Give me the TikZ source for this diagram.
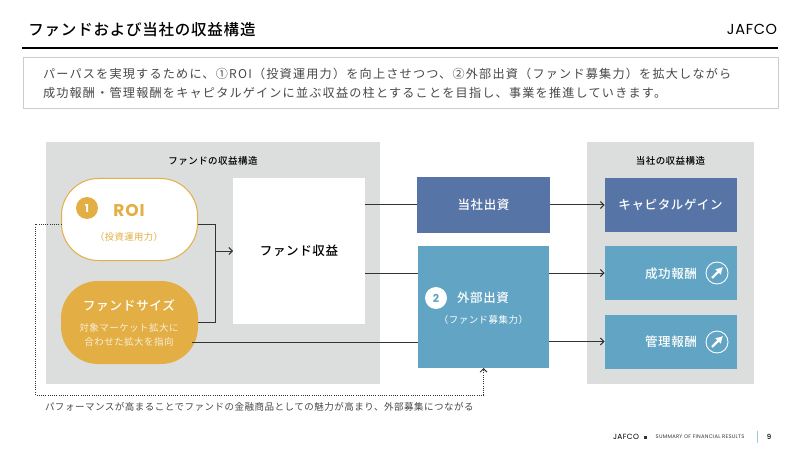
\documentclass[tikz,border=0pt]{standalone}
\usepackage{fontspec}
\usepackage{xcolor}
\usetikzlibrary{arrows.meta}
\setmainfont{Noto Sans CJK JP}
\newfontfamily\jp[LetterSpace=5]{Noto Sans CJK JP}
\newfontfamily\jpmed[LetterSpace=5]{Noto Sans CJK JP Medium}
\newfontfamily\jpwide[LetterSpace=10]{Noto Sans CJK JP}
\newfontfamily\logo[LetterSpace=5]{Poppins}
\newfontfamily\logomed{Poppins Medium}
\newcommand{\fs}[1]{\fontsize{#1}{#1}\selectfont}
\definecolor{panelgray}{HTML}{DCDDDD}
\definecolor{navybox}{HTML}{5674A5}
\definecolor{tealbox}{HTML}{61A4C4}
\definecolor{goldpill}{HTML}{E3AE43}
\definecolor{linedark}{HTML}{333333}
\definecolor{textgray}{HTML}{484848}
\tikzset{
  panel/.style={fill=panelgray,inner sep=0pt,outer sep=0pt,minimum width=#1,minimum height=242pt},
  plainbox/.style={inner sep=0pt,outer sep=0pt,align=center,text=white,minimum width=132pt,minimum height=54pt},
  pill/.style={rounded corners=37pt,inner sep=0pt,outer sep=0pt,minimum width=137pt,minimum height=83pt},
  label/.style={inner sep=0pt,outer sep=0pt,align=center},
  badge/.style={circle,inner sep=0pt,outer sep=0pt,minimum size=22pt,font=\logo\bfseries\fs{11}},
  upring/.style={circle,draw=white,line width=0.9pt,inner sep=0pt,outer sep=0pt,minimum size=22pt},
  upmark/.style={white,line width=2.2pt,-{Latex[length=7pt,width=8.5pt]}},
  link/.style={draw=linedark,line width=1pt},
  arrowlink/.style={link,-{Straight Barb[length=3.5pt,width=7pt]}},
  looplink/.style={draw=linedark,line width=0.9pt,dash pattern=on 1pt off 1.2pt,-{Straight Barb[length=3.5pt,width=7pt]}},
}
\begin{document}
\begin{tikzpicture}[x=1pt,y=-1pt]
  \useasboundingbox (0,0) rectangle (800,449);
  % header
  \node (title) at (142,30) [label,font=\jpmed\fs{15.5},text=black] {ファンドおよび当社の収益構造};
  \node (brand) at (752,29) [label,font=\logo\fs{14.5},text=black] {JAFCO};
  \coordinate (rulel) at (22,48);
  \coordinate (ruler) at (778,48);
  \draw[line width=2.2pt,black] (rulel) -- (ruler);
  \node (lead) at (400.5,83) [draw=black!20,line width=1pt,fill=white,inner sep=0pt,minimum width=755pt,minimum height=51pt] {};
  \node (leada) at (43,73.5) [label,anchor=west,font=\jpwide\fs{12.12},text=textgray] {パーパスを実現するために、①ROI（投資運用力）を向上させつつ、②外部出資（ファンド募集力）を拡大しながら};
  \node (leadb) at (43,92.5) [label,anchor=west,font=\jpwide\fs{12.12},text=textgray] {成功報酬・管理報酬をキャピタルゲインに並ぶ収益の柱とすることを目指し、事業を推進していきます。};

  % panels
  \node (fundpanel) at (213,263) [panel=334pt] {};
  \node (ownpanel) at (670.5,263) [panel=167pt] {};
  \node (fundhead) at (213,161) [label,font=\jpmed\fs{9.5}] {ファンドの収益構造};
  \node (ownhead) at (670.5,161) [label,font=\jpmed\fs{9.5}] {当社の収益構造};

  % boxes
  \node (roi) at (129.5,219.5) [pill,draw=goldpill,line width=1pt,fill=white,minimum width=136pt,minimum height=82pt] {};
  \node (size) at (129.5,322.5) [pill,fill=goldpill] {};
  \node (income) at (299,251) [plainbox,fill=white,text=black,minimum height=146pt,font=\jpmed\fs{12.5}] {ファンド収益};
  \node (own) at (483.5,205) [plainbox,fill=navybox,minimum width=133pt,minimum height=55pt,font=\jpmed\fs{12.5}] {当社出資};
  \node (ext) at (483.5,307) [plainbox,fill=tealbox,minimum width=131pt,minimum height=122pt] {};
  \node (gain) at (670.5,205) [plainbox,fill=navybox,font=\jpmed\fs{12.5}] {キャピタルゲイン};
  \node (perf) at (670.5,273) [plainbox,fill=tealbox] {};
  \node (mgmt) at (670.5,341.5) [plainbox,fill=tealbox] {};

  % texts in the boxes
  \node (roinum) at (87,208) [badge,fill=goldpill,text=white] {1};
  \node (roiname) at (129,211) [label,font=\logo\bfseries\fs{17},text=goldpill] {ROI};
  \node (roisub) at (129,237) [label,font=\jp\fs{9.3},text=goldpill] {（投資運用力）};
  \node (sizename) at (129,306) [label,font=\jpmed\fs{12.7},text=white] {ファンドサイズ};
  \node (sizesub) at (129,335) [label,font=\jp\fs{9.5},text=white!80!goldpill] {対象マーケット拡大に\\[4.5pt]合わせた拡大を指向};
  \node (extnum) at (436,298) [badge,fill=white,text=tealbox] {2};
  \node (extname) at (483,298) [label,font=\jpmed\fs{12.5},text=white] {外部出資};
  \node (extsub) at (483.5,320) [label,font=\jp\fs{9.5},text=white] {（ファンド募集力）};
  \node (perfname) at (671,274) [label,font=\jpmed\fs{12.5},text=white] {成功報酬};
  \node (mgmtname) at (671,342) [label,font=\jpmed\fs{12.5},text=white] {管理報酬};
  \node (perfup) at (717,273) [upring] {};
  \node (mgmtup) at (717,342) [upring] {};
  \draw[upmark] ([xshift=-5pt,yshift=-5pt]perfup.center) -- ([xshift=6pt,yshift=6pt]perfup.center);
  \draw[upmark] ([xshift=-5pt,yshift=-5pt]mgmtup.center) -- ([xshift=6pt,yshift=6pt]mgmtup.center);

  % connectors
  \coordinate (join) at (215.5,251);
  \coordinate (sizeout) at (192,342);
  \coordinate (loopcorner) at (35.5,395);
  \draw[link] ([yshift=-4.5pt]roi.east) -| (join);
  \draw[link] (size.east) -| (join);
  \draw[arrowlink] (join) -- (income.west |- join);
  \draw[link] (income.east |- own.center) -- (own.west);
  \draw[arrowlink] (own.east) -- (gain.west);
  \draw[link] (income.east |- perf.center) -- (ext.west |- perf.center);
  \draw[arrowlink] (ext.east |- perf.center) -- (perf.west);
  \draw[link] (sizeout) -- (ext.west |- sizeout);
  \draw[arrowlink] (ext.east |- mgmt.center) -- (mgmt.west);
  \draw[looplink] ([yshift=-4.5pt]roi.west) -| (loopcorner) -| (ext.south);

  % caption and footer
  \node (note) at (45,406.5) [label,anchor=west,font=\jp\fs{9.53},text=textgray] {パフォーマンスが高まることでファンドの金融商品としての魅力が高まり、外部募集につながる};
  \node (footlogo) at (626,437) [label,font=\logo\fs{7.5},text=black] {JAFCO};
  \node (footmark) at (645,437) [fill=linedark,inner sep=0pt,minimum size=3pt] {};
  \node (foottext) at (700,437) [label,font=\logo\fs{5.2},text=linedark] {SUMMARY OF FINANCIAL RESULTS};
  \coordinate (sepa) at (757.5,431);
  \coordinate (sepb) at (757.5,443);
  \draw[line width=0.8pt,tealbox!60] (sepa) -- (sepb);
  \node (pageno) at (769,437) [label,font=\logomed\fs{7},text=black] {9};
\end{tikzpicture}
\end{document}
